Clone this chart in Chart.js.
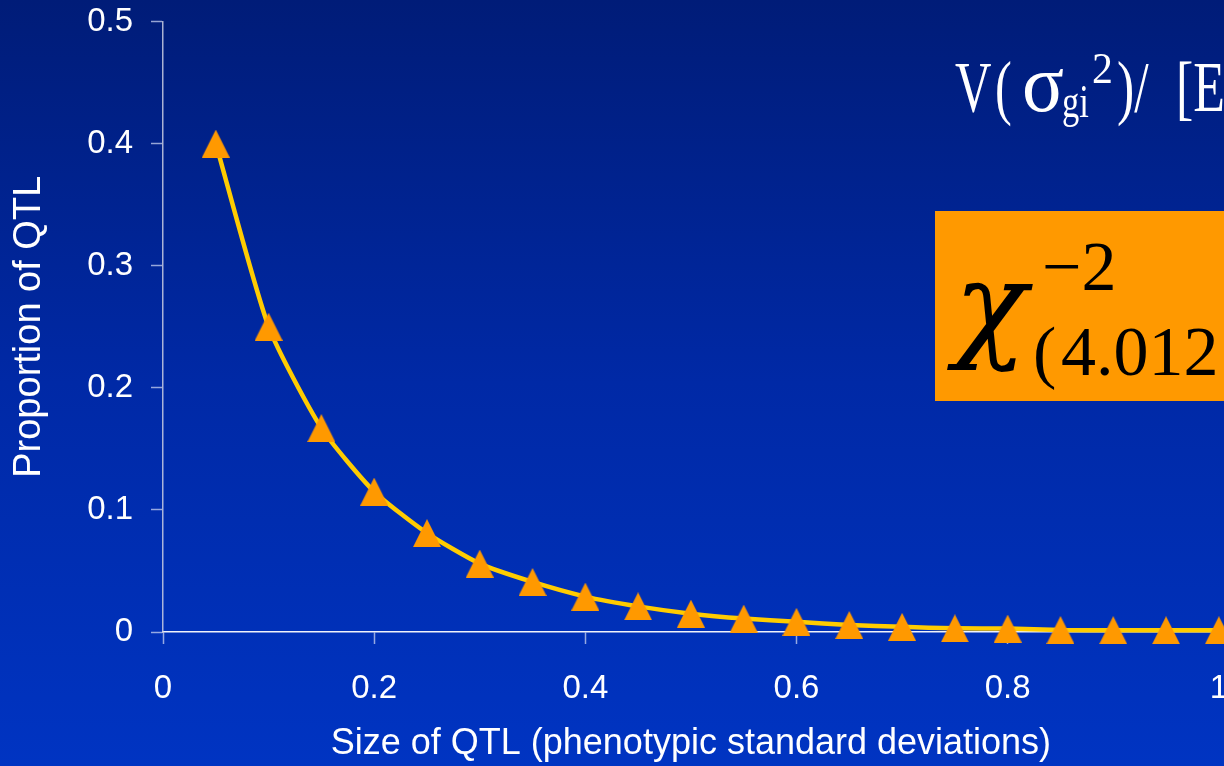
<!DOCTYPE html>
<html>
<head>
<meta charset="utf-8">
<title>Proportion of QTL by size</title>
<script src="https://cdn.jsdelivr.net/npm/chart.js@4/dist/chart.umd.min.js"></script>
<style>
  html, body { margin: 0; padding: 0; width: 1224px; height: 766px; overflow: hidden; }
  body { background: linear-gradient(180deg, #001c78 0%, #0029a6 50%, #0034c2 100%); }
  #wrap { position: absolute; left: 0; top: 0; width: 1253px; height: 766px; }
</style>
</head>
<body>
<div id="wrap"><canvas id="chart"></canvas></div>
<script>
// QTL effect size (phenotypic SD) and the proportion of QTL at that size
const qtlSize = [0.05, 0.10, 0.15, 0.20, 0.25, 0.30, 0.35, 0.40, 0.45, 0.50,
                 0.55, 0.60, 0.65, 0.70, 0.75, 0.80, 0.85, 0.90, 0.95, 1.00];
const qtlProportion = [0.400, 0.250, 0.167, 0.115, 0.081, 0.056, 0.041, 0.029, 0.021, 0.015,
                       0.011, 0.0083, 0.0057, 0.0042, 0.0030, 0.0028, 0.0016, 0.0015, 0.0014, 0.0014];

const xTickLabels = ['0', '0.2', '0.4', '0.6', '0.8', '1'];
const yTickLabels = ['0', '0.1', '0.2', '0.3', '0.4', '0.5'];

const SANS = "'Liberation Sans', Arial, sans-serif";
const SERIF = "'Liberation Serif', 'Times New Roman', serif";
const MATH = "'DejaVu Serif', 'Liberation Serif', serif";

// Orange triangle marker, centred on its bounding box
function triangleMarker(w, h, color) {
  const c = document.createElement('canvas');
  c.width = w; c.height = h;
  const g = c.getContext('2d');
  g.fillStyle = color;
  g.beginPath();
  g.moveTo(w / 2, 0);
  g.lineTo(w, h);
  g.lineTo(0, h);
  g.closePath();
  g.fill();
  return c;
}
const marker = triangleMarker(28, 28, '#ff9900');

// Piece of text drawn with an optional horizontal squeeze
function piece(ctx, text, x, y, size, sx, color, family, italic) {
  ctx.save();
  ctx.translate(x, y);
  ctx.scale(sx, 1);
  ctx.font = (italic ? 'italic ' : '') + size + 'px ' + (family || SERIF);
  ctx.fillStyle = color;
  ctx.textBaseline = 'alphabetic';
  ctx.textAlign = 'left';
  ctx.fillText(text, 0, 0);
  ctx.restore();
}

const formulaPlugin = {
  id: 'formula',
  afterDraw(chart) {
    const ctx = chart.ctx;
    // V(σ_gi²)/ [E ...
    const W = '#ffffff';
    piece(ctx, 'V', 955, 111, 72, 0.70, W);
    piece(ctx, '(', 995, 111, 72, 0.70, W);
    piece(ctx, 'σ', 1022, 111, 82, 0.95, W);
    piece(ctx, 'gi', 1062, 117, 46, 0.75, W);
    piece(ctx, '2', 1092, 83, 44, 0.95, W);
    piece(ctx, ')/', 1117, 111, 72, 0.72, W);
    piece(ctx, '[E', 1176, 111, 72, 0.72, W);

    // Inverse chi-square box
    ctx.save();
    ctx.fillStyle = '#ff9900';
    ctx.fillRect(935, 211, 300, 190);
    ctx.restore();
    const K = '#000000';
    piece(ctx, 'χ', 954, 345, 118, 1.02, K, MATH, true);
    piece(ctx, '\u22122', 1042, 290, 70, 1, K);
    piece(ctx, '(', 1033, 375, 70, 1, K);
    piece(ctx, '4.012', 1061, 375, 70, 1, K);
  }
};

new Chart(document.getElementById('chart'), {
  type: 'line',
  data: {
    datasets: [{
      data: qtlSize.map((s, i) => ({ x: s, y: qtlProportion[i] })),
      borderColor: '#ffcc00',
      borderWidth: 4.5,
      tension: 0.2,
      clip: false,
      pointStyle: marker,
      pointRadius: 14,
      pointHoverRadius: 14,
      fill: false
    }]
  },
  plugins: [formulaPlugin],
  options: {
    responsive: true,
    maintainAspectRatio: false,
    animation: false,
    events: [],
    layout: { padding: { top: 21.5, right: 10, bottom: 0, left: 0 } },
    plugins: { legend: { display: false }, tooltip: { enabled: false } },
    scales: {
      x: {
        type: 'linear',
        min: 0, max: 1,
        afterFit: s => { s.height = 134; },
        ticks: {
          stepSize: 0.2,
          color: '#ffffff',
          font: { family: SANS, size: 33 },
          padding: 25,
          maxRotation: 0,
          autoSkip: false,
          callback: (v, i) => xTickLabels[i]
        },
        grid: { drawOnChartArea: false, drawTicks: true, tickLength: 12, tickColor: 'rgba(200,210,240,0.75)', tickWidth: 1.5 },
        border: { color: '#f0f2fa', width: 1.5 },
        title: {
          display: true,
          text: 'Size of QTL (phenotypic standard deviations)',
          color: '#ffffff',
          font: { family: SANS, size: 36 },
          padding: { top: 0, bottom: 0 }
        }
      },
      y: {
        min: 0, max: 0.5,
        afterFit: s => { s.width = 163; s.paddingTop = 0; s.paddingBottom = 0; },
        ticks: {
          stepSize: 0.1,
          color: '#ffffff',
          font: { family: SANS, size: 33 },
          padding: 18,
          autoSkip: false,
          callback: (v, i) => yTickLabels[i]
        },
        grid: { drawOnChartArea: false, drawTicks: true, tickLength: 12, tickColor: 'rgba(200,210,240,0.75)', tickWidth: 1.5 },
        border: { color: 'rgba(200,205,225,0.85)', width: 1.5 },
        title: {
          display: true,
          text: 'Proportion of QTL',
          color: '#ffffff',
          font: { family: SANS, size: 38 },
          padding: { top: 7, bottom: 0 }
        }
      }
    }
  }
});
</script>
</body>
</html>
